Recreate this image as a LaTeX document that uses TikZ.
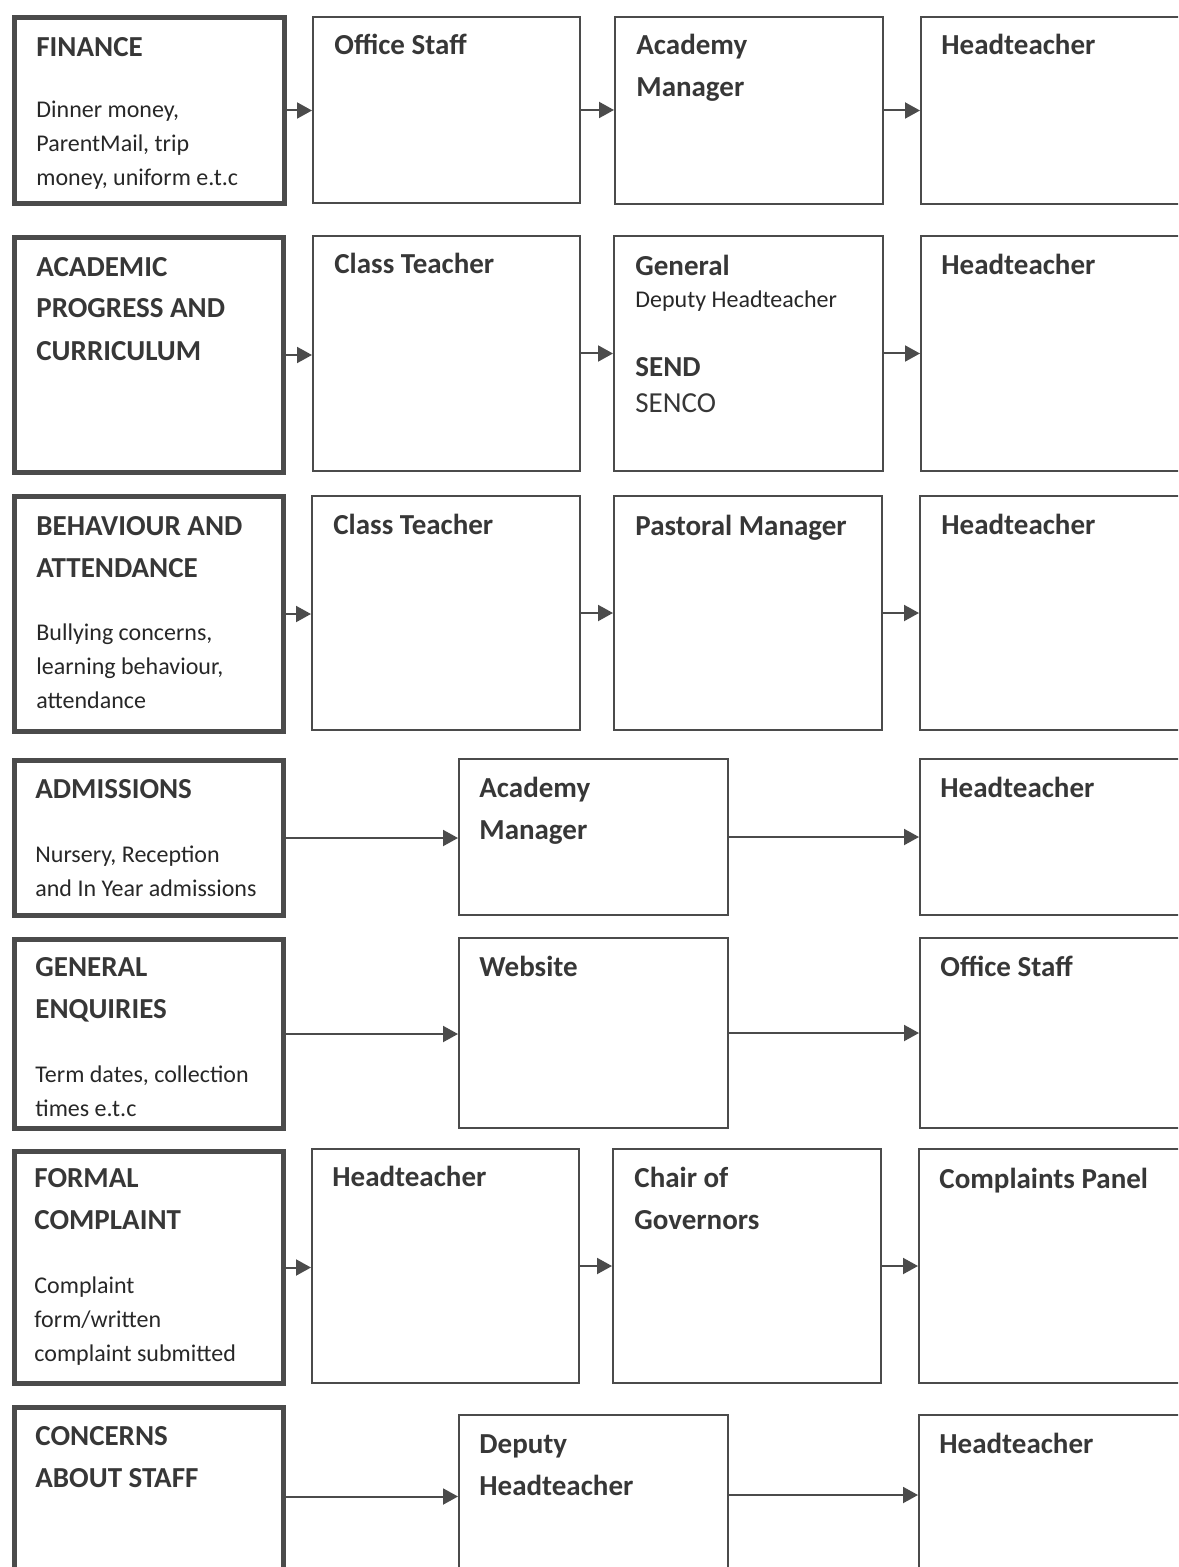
\documentclass[tikz,border=0pt]{standalone}
\usepackage{fontspec}
\setmainfont{Carlito}
\usetikzlibrary{positioning}
\usetikzlibrary{arrows.meta}
\definecolor{linegray}{RGB}{75,75,75}
\definecolor{textgray}{RGB}{55,55,55}

\tikzset{
 wh/.style 2 args={minimum width=#1*0.5pt, minimum height=#2*0.5pt},
 topic/.style={draw=linegray, line width=2.5pt, anchor=north west, inner sep=0pt},
 stage/.style={draw=linegray, line width=1pt, anchor=north west, inner sep=0pt},
 head/.style={anchor=base west, align=left, inner sep=0pt, text=textgray, font=\fontsize{14.5}{21}\selectfont\bfseries},
 note/.style={anchor=base west, align=left, inner sep=0pt, text=textgray!70!black, font=\fontsize{12}{17}\selectfont},
 flow/.style={draw=linegray, line width=1pt, -{Triangle[length=7.5pt,width=8pt]}}
}

\begin{document}
\begin{tikzpicture}[x=0.5pt,y=-0.5pt]
 \useasboundingbox (0,0) rectangle (1178,1567);
 \clip (0,0) rectangle (1178,1567);
 % finance
 \node[topic,wh={270}{186}] (fin0) at (12,15) {};
 \node[stage,wh={267}{186}] (fin1) at (312,16) {};
 \node[stage,wh={268}{187}] (fin2) at (614,16) {};
 \node[stage,wh={290}{187}] (fin3) at (920,16) {};
 \node[head] (fin0t) at (36,57) {FINANCE};
 \node[note] (fin0n) at (36,186) {Dinner money,\\ParentMail, trip\\money, uniform e.t.c};
 \node[head] (fin1t) at (334,55) {Office Staff};
 \node[head] (fin2t) at (636,97) {Academy\\Manager};
 \node[head] (fin3t) at (941,55) {Headteacher};
 \draw[flow] (fin0) -- (fin0 -| fin1.west);
 \draw[flow] (fin1) -- (fin1 -| fin2.west);
 \draw[flow] (fin2) -- (fin2 -| fin3.west);
 % academic
 \node[topic,wh={269}{235}] (aca0) at (12,235) {};
 \node[stage,wh={267}{235}] (aca1) at (312,235) {};
 \node[stage,wh={269}{235}] (aca2) at (613,235) {};
 \node[stage,wh={290}{235}] (aca3) at (920,235) {};
 \node[head] (aca0t) at (36,360) {ACADEMIC\\PROGRESS AND\\CURRICULUM};
 \node[head] (aca1t) at (334,274) {Class Teacher};
 \node[head] (aca2t) at (635,276) {General};
 \node[note] (aca2n) at (635,307) {Deputy Headteacher};
 \node[head] (aca2s) at (635,376) {SEND};
 \node[head,font=\fontsize{14.5}{21}\selectfont] (aca2c) at (635,412) {SENCO};
 \node[head] (aca3t) at (941,275) {Headteacher};
 \draw[flow] (aca0) -- (aca0 -| aca1.west);
 \draw[flow] (aca1) -- (aca1 -| aca2.west);
 \draw[flow] (aca2) -- (aca2 -| aca3.west);
 % behaviour
 \node[topic,wh={269}{235}] (beh0) at (12,494) {};
 \node[stage,wh={268}{234}] (beh1) at (311,495) {};
 \node[stage,wh={268}{234}] (beh2) at (613,495) {};
 \node[stage,wh={290}{234}] (beh3) at (919,495) {};
 \node[head] (beh0t) at (36,577) {BEHAVIOUR AND\\ATTENDANCE};
 \node[note] (beh0n) at (36,708) {Bullying concerns,\\learning behaviour,\\attendance};
 \node[head] (beh1t) at (333,534) {Class Teacher};
 \node[head] (beh2t) at (635,535) {Pastoral Manager};
 \node[head] (beh3t) at (941,534) {Headteacher};
 \draw[flow] (beh0) -- (beh0 -| beh1.west);
 \draw[flow] (beh1) -- (beh1 -| beh2.west);
 \draw[flow] (beh2) -- (beh2 -| beh3.west);
 % admissions
 \node[topic,wh={269}{155}] (adm0) at (12,758) {};
 \node[stage,wh={269}{156}] (adm1) at (458,758) {};
 \node[stage,wh={290}{156}] (adm2) at (919,758) {};
 \node[head] (adm0t) at (35,798) {ADMISSIONS};
 \node[note] (adm0n) at (35,896) {Nursery, Reception\\and In Year admissions};
 \node[head] (adm1t) at (479,839) {Academy\\Manager};
 \node[head] (adm2t) at (940,797) {Headteacher};
 \draw[flow] (adm0) -- (adm0 -| adm1.west);
 \draw[flow] (adm1) -- (adm1 -| adm2.west);
 % general enquiries
 \node[topic,wh={269}{189}] (gen0) at (12,937) {};
 \node[stage,wh={269}{190}] (gen1) at (458,937) {};
 \node[stage,wh={290}{190}] (gen2) at (919,937) {};
 \node[head] (gen0t) at (35,1018) {GENERAL\\ENQUIRIES};
 \node[note] (gen0n) at (35,1116) {Term dates, collection\\times e.t.c};
 \node[head] (gen1t) at (479,976) {Website};
 \node[head] (gen2t) at (940,976) {Office Staff};
 \draw[flow] (gen0) -- (gen0 -| gen1.west);
 \draw[flow] (gen1) -- (gen1 -| gen2.west);
 % formal complaint
 \node[topic,wh={269}{232}] (frm0) at (12,1149) {};
 \node[stage,wh={267}{234}] (frm1) at (311,1148) {};
 \node[stage,wh={268}{234}] (frm2) at (612,1148) {};
 \node[stage,wh={290}{234}] (frm3) at (918,1148) {};
 \node[head] (frm0t) at (34,1229) {FORMAL\\COMPLAINT};
 \node[note] (frm0n) at (34,1361) {Complaint\\form/written\\complaint submitted};
 \node[head] (frm1t) at (332,1186) {Headteacher};
 \node[head] (frm2t) at (634,1229) {Chair of\\Governors};
 \node[head] (frm3t) at (939,1188) {Complaints Panel};
 \draw[flow] (frm0) -- (frm0 -| frm1.west);
 \draw[flow] (frm1) -- (frm1 -| frm2.west);
 \draw[flow] (frm2) -- (frm2 -| frm3.west);
 % concerns about staff
 \node[topic,wh={269}{178}] (stf0) at (12,1405) {};
 \node[stage,wh={269}{160}] (stf1) at (458,1414) {};
 \node[stage,wh={290}{160}] (stf2) at (918,1414) {};
 \node[head] (stf0t) at (35,1487) {CONCERNS\\ABOUT STAFF};
 \node[head] (stf1t) at (479,1495) {Deputy\\Headteacher};
 \node[head] (stf2t) at (939,1453) {Headteacher};
 \draw[flow] (stf0) -- (stf0 -| stf1.west);
 \draw[flow] (stf1) -- (stf1 -| stf2.west);
\end{tikzpicture}
\end{document}
